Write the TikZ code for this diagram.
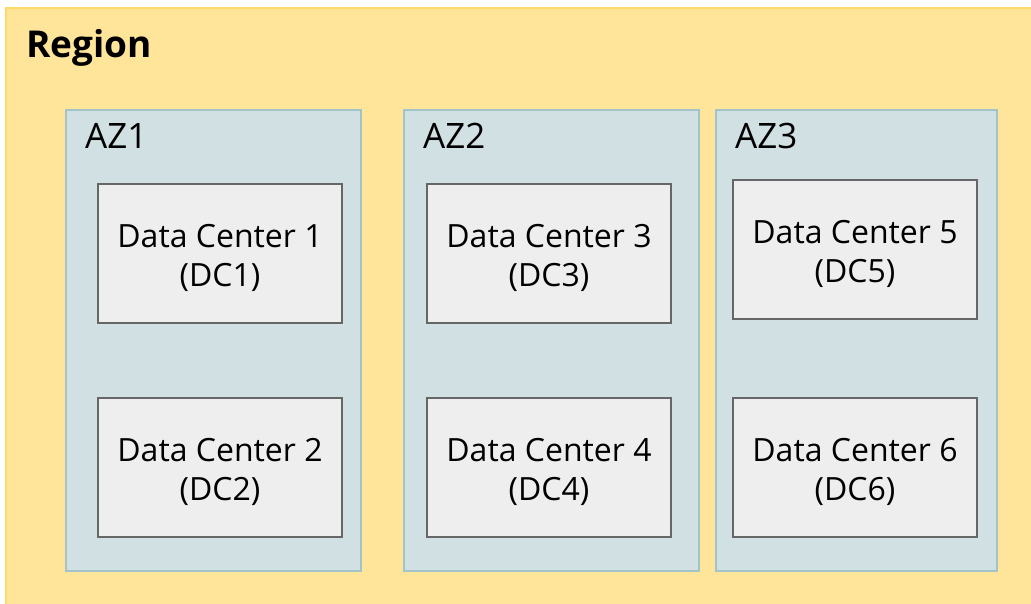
\documentclass[tikz,border=0pt]{standalone}
\usepackage{fontspec}
\setmainfont{Open Sans}
\definecolor{regfill}{HTML}{FFE599}
\definecolor{regdraw}{HTML}{FFD966}
\definecolor{azfill}{HTML}{D0E0E3}
\definecolor{azdraw}{HTML}{A2C4C9}
\definecolor{dcfill}{HTML}{EEEEEE}
\definecolor{dcdraw}{HTML}{666666}
\begin{document}
\begin{tikzpicture}[x=1pt,y=-1pt,
  regionbox/.style={fill=regfill,draw=regdraw,line width=1.5pt},
  azbox/.style={fill=azfill,draw=azdraw,line width=1.5pt},
  dcbox/.style={fill=dcfill,draw=dcdraw,line width=1.8pt,minimum width=244pt,minimum height=139pt,inner sep=0pt},
  dctext/.style={inner sep=0pt,align=center,font=\fontsize{32}{39}\selectfont},
  azlabel/.style={anchor=base west,inner sep=0pt,font=\fontsize{35}{40}\selectfont},
  reglabel/.style={anchor=base west,inner sep=0pt,font=\fontsize{37}{44}\selectfont\bfseries}]
\useasboundingbox (0,0) rectangle (1031,603);
\begin{scope}
\clip (0,0) rectangle (1031,603);
\draw[regionbox] (6,8) rectangle (1040,612);
\end{scope}
\node[reglabel] (reg) at (26,57) {Region};
\draw[azbox] (66,110) rectangle (361,571);
\draw[azbox] (404,110) rectangle (699,571);
\draw[azbox] (716,110) rectangle (997,571);
\node[azlabel] (az1) at (85,148) {AZ1};
\node[azlabel] (az2) at (423,148) {AZ2};
\node[azlabel] (az3) at (735,148) {AZ3};
\node[dcbox] (dc1) at (220,253.5) {};
\node[dcbox] (dc2) at (220,467.5) {};
\node[dcbox] (dc3) at (549,253.5) {};
\node[dcbox] (dc4) at (549,467.5) {};
\node[dcbox] (dc5) at (855,249.5) {};
\node[dcbox] (dc6) at (855,467.5) {};
\node[dctext] (dc1t) at ([yshift=-4pt]dc1.center) {Data Center 1\\(DC1)};
\node[dctext] (dc2t) at ([yshift=-4pt]dc2.center) {Data Center 2\\(DC2)};
\node[dctext] (dc3t) at ([yshift=-4pt]dc3.center) {Data Center 3\\(DC3)};
\node[dctext] (dc4t) at ([yshift=-4pt]dc4.center) {Data Center 4\\(DC4)};
\node[dctext] (dc5t) at ([yshift=-4pt]dc5.center) {Data Center 5\\(DC5)};
\node[dctext] (dc6t) at ([yshift=-4pt]dc6.center) {Data Center 6\\(DC6)};
\end{tikzpicture}
\end{document}
